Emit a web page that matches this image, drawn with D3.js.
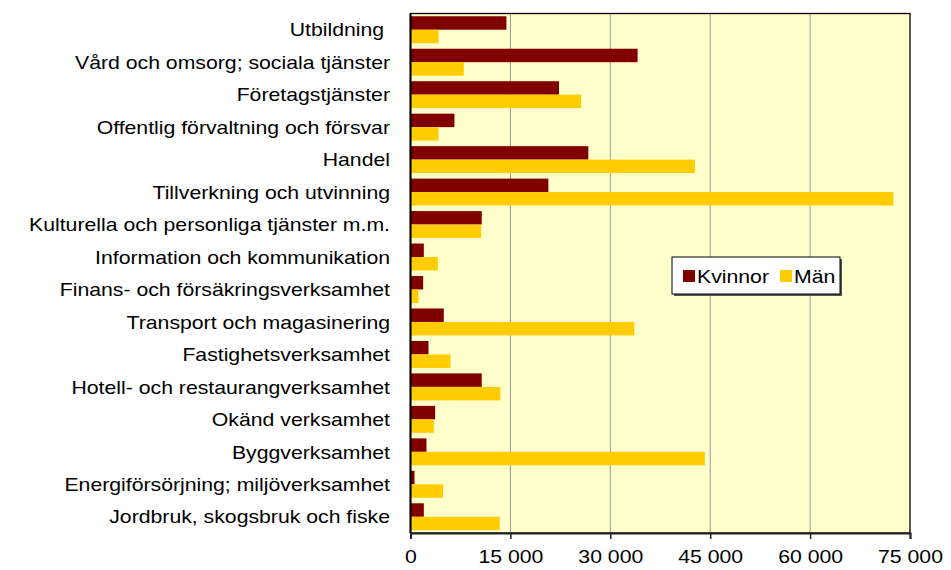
<!DOCTYPE html>
<html>
<head>
<meta charset="utf-8">
<script src="https://cdn.jsdelivr.net/npm/d3@7"></script>
<style>
  body { margin: 0; background: #fff; }
  text { font-family: "Liberation Sans", Arial, sans-serif; }
</style>
</head>
<body>
<script>
// categories top to bottom
var categories = ["Utbildning ", "Vård och omsorg; sociala tjänster", "Företagstjänster",
    "Offentlig förvaltning och försvar", "Handel", "Tillverkning och utvinning",
    "Kulturella och personliga tjänster m.m.", "Information och kommunikation",
    "Finans- och försäkringsverksamhet", "Transport och magasinering",
    "Fastighetsverksamhet", "Hotell- och restaurangverksamhet", "Okänd verksamhet",
    "Byggverksamhet", "Energiförsörjning; miljöverksamhet", "Jordbruk, skogsbruk och fiske"];
var kvinnor = [14400, 34100, 22300, 6600, 26700, 20700, 10700, 2000, 1900, 5000, 2700, 10700, 3700, 2400, 600, 2000];
var man = [4200, 8000, 25600, 4200, 42700, 72500, 10600, 4100, 1200, 33600, 6000, 13500, 3500, 44200, 4900, 13400];
var seriesNames = ["Kvinnor", "Män"];
var seriesColors = ["#800000", "#ffcc00"];
var xTicks = [0, 15000, 30000, 45000, 60000, 75000];

var width = 951, height = 570;
var plotLeft = 410.5, plotRight = 910, plotTop = 13.5, plotBottom = 533;
var sx = 1.18; // text in the source is stretched horizontally
var fontSize = 18;

var svg = d3.select("body").append("svg")
    .attr("width", width)
    .attr("height", height);

var x = d3.scaleLinear().domain([0, 75000]).range([plotLeft, plotRight]);
var y = d3.scaleBand().domain(categories).range([plotTop, plotBottom])
    .paddingInner(0.17).paddingOuter(0.085);
var ySub = d3.scaleBand().domain(seriesNames).range([0, y.bandwidth()]);

var fmt = d3.formatLocale({decimal: ",", thousands: " ", grouping: [3], currency: ["", ""]}).format(",");

// plot background
svg.append("rect")
    .attr("x", plotLeft).attr("y", plotTop)
    .attr("width", plotRight - plotLeft).attr("height", plotBottom - plotTop)
    .attr("fill", "#ffffcc");

// grid lines
svg.append("g")
    .selectAll("line")
    .data(xTicks.slice(1, -1))
    .enter().append("line")
    .attr("x1", function(d) { return x(d); })
    .attr("x2", function(d) { return x(d); })
    .attr("y1", plotTop).attr("y2", plotBottom)
    .attr("stroke", "#999999")
    .attr("stroke-width", 1);

// bars
var rows = svg.append("g").selectAll("g")
    .data(categories)
    .enter().append("g")
    .attr("transform", function(d) { return "translate(0," + y(d) + ")"; });

rows.selectAll("rect")
    .data(function(d, i) { return [kvinnor[i], man[i]]; })
    .enter().append("rect")
    .attr("x", plotLeft)
    .attr("y", function(d, j) { return ySub(seriesNames[j]); })
    .attr("width", function(d) { return x(d) - plotLeft; })
    .attr("height", ySub.bandwidth())
    .attr("fill", function(d, j) { return seriesColors[j]; });

// border
svg.append("rect")
    .attr("x", plotLeft).attr("y", plotTop)
    .attr("width", plotRight - plotLeft).attr("height", plotBottom - plotTop)
    .attr("fill", "none")
    .attr("stroke", "#000")
    .attr("stroke-width", 1.3);

// left axis line
svg.append("line")
    .attr("x1", plotLeft).attr("x2", plotLeft)
    .attr("y1", plotTop).attr("y2", plotBottom)
    .attr("stroke", "#000").attr("stroke-width", 2);

// x axis
var xAxis = svg.append("g")
    .attr("transform", "translate(0," + plotBottom + ")")
    .call(d3.axisBottom(x).tickValues(xTicks).tickSize(6).tickFormat(fmt));
xAxis.select(".domain").attr("stroke", "#222").attr("stroke-width", 2);
xAxis.selectAll(".tick line").attr("stroke", "#222").attr("stroke-width", 1.5);
xAxis.selectAll(".tick text")
    .attr("font-size", fontSize)
    .attr("fill", "#000")
    .attr("y", 0).attr("dy", 0)
    .attr("transform", "translate(0,29.5) scale(" + sx + ",1)")
    .style("font-family", "'Liberation Sans', Arial, sans-serif");

// category labels
svg.append("g").selectAll("text")
    .data(categories)
    .enter().append("text")
    .attr("transform", function(d) {
        return "translate(390," + (y(d) + y.bandwidth() / 2 + 6.7) + ") scale(" + sx + ",1)";
    })
    .attr("text-anchor", "end")
    .attr("font-size", fontSize)
    .style("white-space", "pre")
    .text(function(d) { return d; });

// legend
var legend = svg.append("g").attr("transform", "translate(672,257)");
legend.append("rect")
    .attr("x", 2).attr("y", 2).attr("width", 168).attr("height", 37)
    .attr("fill", "#555");
legend.append("rect")
    .attr("width", 168).attr("height", 37)
    .attr("fill", "#fff").attr("stroke", "#000").attr("stroke-width", 1);

var legendX = [11, 108];
var items = legend.selectAll(".item")
    .data(seriesNames)
    .enter().append("g")
    .attr("class", "item")
    .attr("transform", function(d, i) { return "translate(" + legendX[i] + ",0)"; });
items.append("rect")
    .attr("y", 13).attr("width", 12).attr("height", 12)
    .attr("fill", function(d, i) { return seriesColors[i]; });
items.append("text")
    .attr("transform", "translate(14,26) scale(" + sx + ",1)")
    .attr("font-size", fontSize)
    .text(function(d) { return d; });
</script>
</body>
</html>
